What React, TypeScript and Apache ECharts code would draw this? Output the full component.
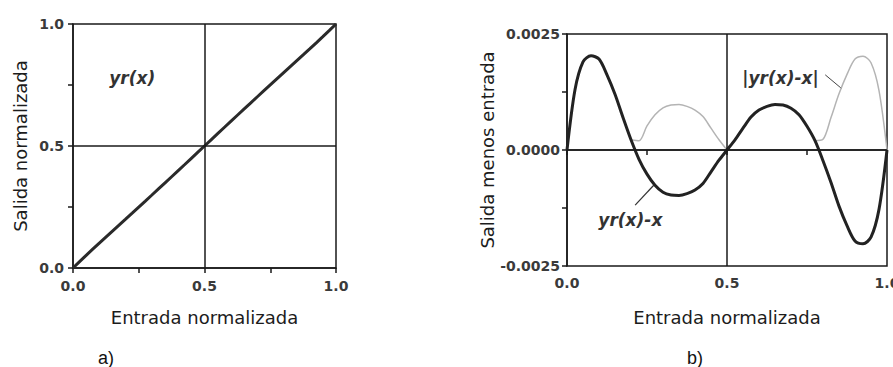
import React, { useEffect, useRef } from "react";
import * as echarts from "echarts";

// Normalised input samples
const inputX = [
  0, 0.025, 0.05, 0.075, 0.1, 0.125, 0.15, 0.175, 0.2, 0.225, 0.25, 0.275, 0.3, 0.325,
  0.35, 0.375, 0.4, 0.425, 0.45, 0.475, 0.5, 0.525, 0.55, 0.575, 0.6, 0.625, 0.65,
  0.675, 0.7, 0.725, 0.75, 0.775, 0.8, 0.825, 0.85, 0.875, 0.9, 0.925, 0.95, 0.975, 1.0,
];

// Output minus input, yr(x) - x
const errorY = [
  0, 0.0013, 0.0019, 0.00203, 0.00196, 0.00162, 0.0012, 0.0007, 0.00022, -0.0002,
  -0.00052, -0.00076, -0.00091, -0.00097, -0.00098, -0.00094, -0.00086, -0.00072,
  -0.00047, -0.00022, 0, 0.00022, 0.00047, 0.00071, 0.00086, 0.00094, 0.00098,
  0.00097, 0.0009, 0.00076, 0.00051, 0.0002, -0.00023, -0.0007, -0.00121, -0.00163,
  -0.00196, -0.00202, -0.00188, -0.00128, 0,
];

const xTicks = [0, 0.5, 1.0];

// yr(x) is the input plus its error
const yrPairs = inputX.map((x, i) => [x, x + errorY[i]]);
const errPairs = inputX.map((x, i) => [x, errorY[i]]);
// |yr(x)-x| only where the error is negative (plus its end points)
const absPairs = inputX.map((x, i) => {
  const v = errorY[i];
  const near = v < 0 || errorY[i - 1] < 0 || errorY[i + 1] < 0;
  return [x, near ? Math.abs(v) : null];
});

const FONT = "DejaVu Sans";
const INK = "#1a1a1a";

const xLabel = (v: number) =>
  xTicks.some((t) => Math.abs(t - v) < 1e-9) ? v.toFixed(1) : "";

export default function App() {
  const ref = useRef<HTMLDivElement>(null);

  useEffect(() => {
    document.body.style.margin = "0";
    const chart = echarts.init(ref.current!, undefined, { renderer: "svg" });

    const axisCommon = {
      axisLine: { show: true, lineStyle: { color: INK, width: 1.5 } },
      axisTick: { show: true, inside: false, length: 5, lineStyle: { color: INK, width: 1.5 } },
      splitLine: { show: false },
      nameTextStyle: { fontFamily: FONT, fontSize: 18, color: "#1c1c1c" },
    };
    const tickText = { fontFamily: FONT, fontSize: 14, fontWeight: "bold", color: "#3a3a3a" };
    const cross = {
      silent: true,
      symbol: "none",
      label: { show: false },
      lineStyle: { color: INK, width: 1.5, type: "solid" },
    };

    chart.setOption({
      animation: false,
      grid: [
        { left: 73, top: 24, width: 263, height: 244, show: true, borderColor: INK, borderWidth: 1.5, outerBoundsMode: "none", containLabel: false },
        { left: 567, top: 34, width: 320, height: 232, show: true, borderColor: INK, borderWidth: 1.5, outerBoundsMode: "none", containLabel: false },
      ],
      xAxis: [
        {
          ...axisCommon,
          gridIndex: 0, type: "value", min: 0, max: 1, interval: 0.25,
          name: "Entrada normalizada", nameLocation: "middle", nameGap: 40,
          axisLabel: { ...tickText, margin: 11, formatter: xLabel },
        },
        {
          ...axisCommon,
          gridIndex: 1, type: "value", min: 0, max: 1, interval: 0.25,
          name: "Entrada normalizada", nameLocation: "middle", nameGap: 42,
          axisLabel: { ...tickText, margin: 10, formatter: xLabel },
        },
      ],
      yAxis: [
        {
          ...axisCommon,
          gridIndex: 0, type: "value", min: 0, max: 1, interval: 0.25,
          name: "Salida normalizada", nameLocation: "middle", nameGap: 44,
          axisLabel: { ...tickText, margin: 9, formatter: xLabel },
        },
        {
          ...axisCommon,
          gridIndex: 1, type: "value", min: -0.0025, max: 0.0025, interval: 0.00125,
          name: "Salida menos entrada", nameLocation: "middle", nameGap: 68,
          axisLabel: {
            ...tickText, margin: 7,
            formatter: (v: number) => (Math.round(v / 0.00125) % 2 === 0 ? v.toFixed(4) : ""),
          },
        },
      ],
      series: [
        {
          type: "line", xAxisIndex: 0, yAxisIndex: 0, data: yrPairs,
          showSymbol: false, lineStyle: { color: "#2a2a2a", width: 3 }, z: 3,
          markLine: { ...cross, data: [{ xAxis: 0.5 }, { yAxis: 0.5 }] },
        },
        {
          type: "line", xAxisIndex: 1, yAxisIndex: 1, data: absPairs, connectNulls: false,
          showSymbol: false, smooth: 0.3, lineStyle: { color: "#b4b4b4", width: 1.5 }, z: 2,
        },
        {
          type: "line", xAxisIndex: 1, yAxisIndex: 1, data: errPairs,
          showSymbol: false, smooth: 0.3, lineStyle: { color: "#222", width: 3 }, z: 3,
          markLine: { ...cross, data: [{ xAxis: 0.5 }, { yAxis: 0 }] },
        },
      ],
    });

    const p0 = (v: number[]) => chart.convertToPixel({ gridIndex: 0 }, v) as number[];
    const p1 = (v: number[]) => chart.convertToPixel({ gridIndex: 1 }, v) as number[];
    const curveFont = { fontFamily: FONT, fontSize: 17, fontWeight: "bold", fontStyle: "italic", fill: "#333" };

    const lblA = p0([0.225, 0.78]);
    const lblAbs = p1([0.667, 0.00155]);
    const lblErr = p1([0.198, -0.00151]);
    const leadAbs = [p1([0.807, 0.00162]), p1([0.859, 0.00132])];
    const leadErr = [p1([0.213, -0.00119]), p1([0.271, -0.00076])];

    chart.setOption({
      graphic: [
        { type: "text", x: lblA[0], y: lblA[1], style: { ...curveFont, text: "yr(x)", align: "center", verticalAlign: "middle" } },
        { type: "text", x: lblAbs[0], y: lblAbs[1], style: { ...curveFont, text: "|yr(x)-x|", align: "center", verticalAlign: "middle" } },
        { type: "text", x: lblErr[0], y: lblErr[1], style: { ...curveFont, text: "yr(x)-x", align: "center", verticalAlign: "middle" } },
        {
          type: "line",
          shape: { x1: leadAbs[0][0], y1: leadAbs[0][1], x2: leadAbs[1][0], y2: leadAbs[1][1] },
          style: { stroke: "#444", lineWidth: 1 },
        },
        {
          type: "line",
          shape: { x1: leadErr[0][0], y1: leadErr[0][1], x2: leadErr[1][0], y2: leadErr[1][1] },
          style: { stroke: "#333", lineWidth: 1.2 },
        },
        { type: "text", x: 106, y: 358, style: { text: "a)", fontFamily: "Liberation Sans", fontSize: 18, fill: "#111", align: "center", verticalAlign: "middle" } },
        { type: "text", x: 695, y: 358, style: { text: "b)", fontFamily: "Liberation Sans", fontSize: 18, fill: "#111", align: "center", verticalAlign: "middle" } },
      ],
    });

    return () => chart.dispose();
  }, []);

  return <div ref={ref} style={{ width: 893, height: 367 }} />;
}
